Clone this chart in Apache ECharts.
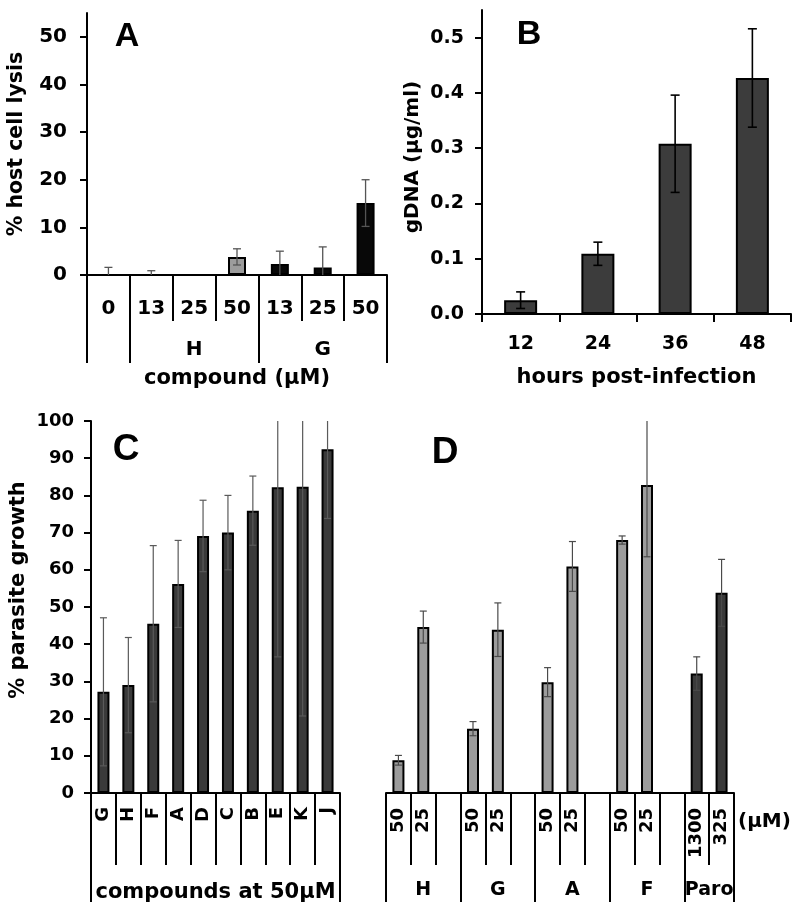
<!DOCTYPE html>
<html><head><meta charset="utf-8">
<script src="https://cdn.jsdelivr.net/npm/echarts@6/dist/echarts.min.js"></script>
<style>html,body{margin:0;padding:0;background:#fff}#c{width:800px;height:912px}</style>
</head><body><div id="c"></div>
<script>
// ---------- Panel A: % host cell lysis ----------
const aDoses = ['0', '13', '25', '50', '13', '25', '50'];
const aCompound = ['none', 'H', 'H', 'H', 'G', 'G', 'G'];
const aLysis = [0, 0, 0, 3.8, 2.3, 1.6, 15.1];
const aLysisErr = [1.6, 0.9, 0, 1.7, 2.7, 4.3, 4.9];
const aYTicks = [0, 10, 20, 30, 40, 50];
// ---------- Panel B: gDNA ----------
const bHours = ['12', '24', '36', '48'];
const bGDNA = [0.025, 0.109, 0.308, 0.427];
const bGDNAErr = [0.015, 0.021, 0.088, 0.089];
const bYTicks = [0, 0.1, 0.2, 0.3, 0.4, 0.5];
// ---------- Panel C: % parasite growth, compounds at 50uM ----------
const cCompounds = ['G', 'H', 'F', 'A', 'D', 'C', 'B', 'E', 'K', 'J'];
const cGrowth = [27.2, 29.0, 45.5, 56.2, 69.1, 70.0, 75.9, 82.2, 82.3, 92.4];
const cGrowthErr = [19.9, 12.8, 21.0, 11.7, 9.6, 10.0, 9.3, 45.6, 61.6, 18.6];
// ---------- Panel D: dose response ----------
const dCompounds = ['H', 'G', 'A', 'F', 'Paro'];
const dDoses = [['50', '25'], ['50', '25'], ['50', '25'], ['50', '25'], ['1300', '325']];
const dGrowth = [[8.8, 44.6], [17.3, 43.9], [29.8, 60.9], [68.0, 82.8], [32.1, 53.8]];
const dGrowthErr = [[1.3, 4.3], [1.9, 7.2], [3.9, 6.7], [1.1, 19.3], [4.5, 9.0]];

// ---------- derived structures ----------
const FONT = 'DejaVu Sans';
// A groups (contiguous runs of compound)
const aBounds = [0], aGroupCenters = [], aGroupNames = [];
{
  let start = 0;
  for (let i = 1; i <= aCompound.length; i++) {
    if (i === aCompound.length || aCompound[i] !== aCompound[start]) {
      aBounds.push(i);
      if (aCompound[start] !== 'none') { aGroupCenters.push((start + i) / 2); aGroupNames.push(aCompound[start]); }
      start = i;
    }
  }
}
// D categories with a blank slot between compound groups
const dCats = [], dVals = [], dErrData = [], dBounds = [0], dCenters = [];
dCompounds.forEach((c, g) => {
  const start = dCats.length;
  dDoses[g].forEach((dose, k) => {
    const idx = dCats.length;
    dCats.push(dose);
    dVals.push({ value: dGrowth[g][k], itemStyle: { color: c === 'Paro' ? '#3a3a3a' : '#9c9c9c' } });
    dErrData.push([idx, dGrowth[g][k] - dGrowthErr[g][k], dGrowth[g][k] + dGrowthErr[g][k]]);
  });
  if (g < dCompounds.length - 1) { dCats.push(''); dVals.push('-'); }
  dBounds.push(dCats.length);
  dCenters.push((start + dCats.length) / 2);
});

function errSeries(xIdx, yIdx, data, cap, color, lw) {
  return {
    type: 'custom', xAxisIndex: xIdx, yAxisIndex: yIdx, clip: true, z: 5,
    data: data, encode: { x: 0, y: [1, 2] },
    renderItem: function (params, api) {
      const i = api.value(0), lo = api.value(1), hi = api.value(2);
      if (hi === lo) return null;
      const p1 = api.coord([i, hi]), p0 = api.coord([i, lo]);
      const st = { stroke: color, lineWidth: lw };
      return { type: 'group', children: [
        { type: 'line', shape: { x1: p1[0], y1: p1[1], x2: p0[0], y2: p0[1] }, style: st },
        { type: 'line', shape: { x1: p1[0] - cap / 2, y1: p1[1], x2: p1[0] + cap / 2, y2: p1[1] }, style: st },
        { type: 'line', shape: { x1: p0[0] - cap / 2, y1: p0[1], x2: p0[0] + cap / 2, y2: p0[1] }, style: st }
      ] };
    }
  };
}
const lbl = (size, extra) => Object.assign({ color: '#000', fontFamily: FONT, fontWeight: 'bold', fontSize: size }, extra || {});
const AX = { lineStyle: { color: '#000', width: 2 } };

const option = {
  backgroundColor: '#fff',
  animation: false,
  grid: [
    { left: 87, top: 13, width: 300, height: 262, outerBoundsMode: 'none' },
    { left: 482, top: 10, width: 309, height: 304, outerBoundsMode: 'none' },
    { left: 91, top: 421, width: 249, height: 372, outerBoundsMode: 'none' },
    { left: 386, top: 421, width: 348, height: 372, outerBoundsMode: 'none' }
  ],
  xAxis: [
    { gridIndex: 0, type: 'category', data: aDoses, position: 'bottom', axisLine: AX,
      axisTick: { show: true, interval: 0, length: 46, lineStyle: { color: '#000', width: 2 } },
      axisLabel: lbl(20, { interval: 0, margin: 24 }) },
    { gridIndex: 0, type: 'value', min: 0, max: aDoses.length, position: 'bottom', axisLine: { show: false }, splitLine: { show: false },
      axisTick: { show: true, customValues: aBounds, length: 88, lineStyle: { color: '#000', width: 2 } },
      axisLabel: lbl(20, { customValues: aGroupCenters, margin: 65, formatter: v => aGroupNames[aGroupCenters.indexOf(v)] || '' }),
      name: 'compound (µM)', nameLocation: 'middle', nameGap: 93, nameTextStyle: lbl(21) },
    { gridIndex: 1, type: 'category', data: bHours, position: 'bottom', axisLine: AX,
      axisTick: { show: true, interval: 0, length: 8, lineStyle: { color: '#000', width: 2 } },
      axisLabel: lbl(19, { interval: 0, margin: 21 }),
      name: 'hours post-infection', nameLocation: 'middle', nameGap: 53, nameTextStyle: lbl(21) },
    { gridIndex: 2, type: 'category', data: cCompounds, position: 'bottom', axisLine: AX,
      axisTick: { show: true, interval: 0, length: 72, lineStyle: { color: '#000', width: 2 } },
      axisLabel: lbl(18, { interval: 0, margin: 14, rotate: 90 }) },
    { gridIndex: 2, type: 'value', min: 0, max: cCompounds.length, position: 'bottom', axisLine: { show: false }, splitLine: { show: false },
      axisTick: { show: true, customValues: [0, cCompounds.length], length: 109, lineStyle: { color: '#000', width: 2 } },
      axisLabel: { show: false },
      name: 'compounds at 50µM', nameLocation: 'middle', nameGap: 89, nameTextStyle: lbl(21) },
    { gridIndex: 3, type: 'category', data: dCats, position: 'bottom', axisLine: AX,
      axisTick: { show: true, interval: 0, length: 72, lineStyle: { color: '#000', width: 2 } },
      axisLabel: lbl(18, { interval: 0, margin: 15, rotate: 90 }),
      name: '(µM)', nameLocation: 'end', nameGap: 4, nameTextStyle: lbl(20, { verticalAlign: 'top', padding: [19, 0, 0, 0] }) },
    { gridIndex: 3, type: 'value', min: 0, max: dCats.length, position: 'bottom', axisLine: { show: false }, splitLine: { show: false },
      axisTick: { show: true, customValues: dBounds, length: 109, lineStyle: { color: '#000', width: 2 } },
      axisLabel: lbl(19, { customValues: dCenters, margin: 88, formatter: v => dCompounds[dCenters.indexOf(v)] || '' }) }
  ],
  yAxis: [
    { gridIndex: 0, type: 'value', min: 0, max: 55, axisLine: { show: true, onZero: false, lineStyle: { color: '#000', width: 2 } }, splitLine: { show: false },
      axisTick: { show: true, customValues: aYTicks, length: 7, lineStyle: { color: '#000', width: 2 } },
      axisLabel: lbl(20, { customValues: aYTicks, margin: 20 }),
      name: '% host cell lysis', nameLocation: 'middle', nameGap: 60, nameTextStyle: lbl(20.5) },
    { gridIndex: 1, type: 'value', min: 0, max: 0.55, axisLine: { show: true, onZero: false, lineStyle: { color: '#000', width: 2 } }, splitLine: { show: false },
      axisTick: { show: true, customValues: bYTicks, length: 7, lineStyle: { color: '#000', width: 2 } },
      axisLabel: lbl(19, { customValues: bYTicks, margin: 18, formatter: v => v.toFixed(1) }),
      name: 'gDNA (µg/ml)', nameLocation: 'middle', nameGap: 59, nameTextStyle: lbl(20, { padding: [0, 0, 0, 10] }) },
    { gridIndex: 2, type: 'value', min: 0, max: 100, interval: 10, axisLine: { show: true, onZero: false, lineStyle: { color: '#000', width: 2 } }, splitLine: { show: false },
      axisTick: { show: true, length: 7, lineStyle: { color: '#000', width: 2 } },
      axisLabel: lbl(18, { margin: 17 }),
      name: '% parasite growth', nameLocation: 'middle', nameGap: 62, nameTextStyle: lbl(21, { padding: [0, 0, 0, 34] }) },
    { gridIndex: 3, type: 'value', min: 0, max: 100, show: false, splitLine: { show: false } }
  ],
  series: [
    { type: 'bar', xAxisIndex: 0, yAxisIndex: 0, barWidth: 18,
      data: aLysis.map((v, i) => ({ value: v, itemStyle: { color: aCompound[i] === 'H' ? '#9c9c9c' : '#080808' } })),
      itemStyle: { borderColor: '#000', borderWidth: 2 } },
    errSeries(0, 0, aLysis.map((v, i) => [i, v - aLysisErr[i], v + aLysisErr[i]]), 8, '#555', 1.3),
    { type: 'bar', xAxisIndex: 2, yAxisIndex: 1, barWidth: 33, data: bGDNA,
      itemStyle: { color: '#3c3c3c', borderColor: '#000', borderWidth: 2 } },
    errSeries(2, 1, bGDNA.map((v, i) => [i, v - bGDNAErr[i], v + bGDNAErr[i]]), 9, '#000', 1.6),
    { type: 'bar', xAxisIndex: 3, yAxisIndex: 2, barWidth: 12, data: cGrowth,
      itemStyle: { color: '#3a3a3a', borderColor: '#000', borderWidth: 2 } },
    errSeries(3, 2, cGrowth.map((v, i) => [i, v - cGrowthErr[i], v + cGrowthErr[i]]), 7, '#5a5a5a', 1.2),
    { type: 'bar', xAxisIndex: 5, yAxisIndex: 3, barWidth: 12, data: dVals,
      itemStyle: { borderColor: '#000', borderWidth: 2 } },
    errSeries(5, 3, dErrData, 7, '#4a4a4a', 1.2)
  ],
  graphic: [
    { type: 'text', x: 127, y: 37, style: { text: 'A', fontFamily: 'Liberation Sans', fontWeight: 'bold', fontSize: 34, fill: '#000', align: 'center', verticalAlign: 'middle' } },
    { type: 'text', x: 529, y: 35, style: { text: 'B', fontFamily: 'Liberation Sans', fontWeight: 'bold', fontSize: 34, fill: '#000', align: 'center', verticalAlign: 'middle' } },
    { type: 'text', x: 126, y: 450, style: { text: 'C', fontFamily: 'Liberation Sans', fontWeight: 'bold', fontSize: 37, fill: '#000', align: 'center', verticalAlign: 'middle' } },
    { type: 'text', x: 445, y: 453, style: { text: 'D', fontFamily: 'Liberation Sans', fontWeight: 'bold', fontSize: 37, fill: '#000', align: 'center', verticalAlign: 'middle' } }
  ]
};
const chart = echarts.init(document.getElementById('c'), null, { renderer: 'canvas' });
chart.setOption(option);
</script></body></html>
